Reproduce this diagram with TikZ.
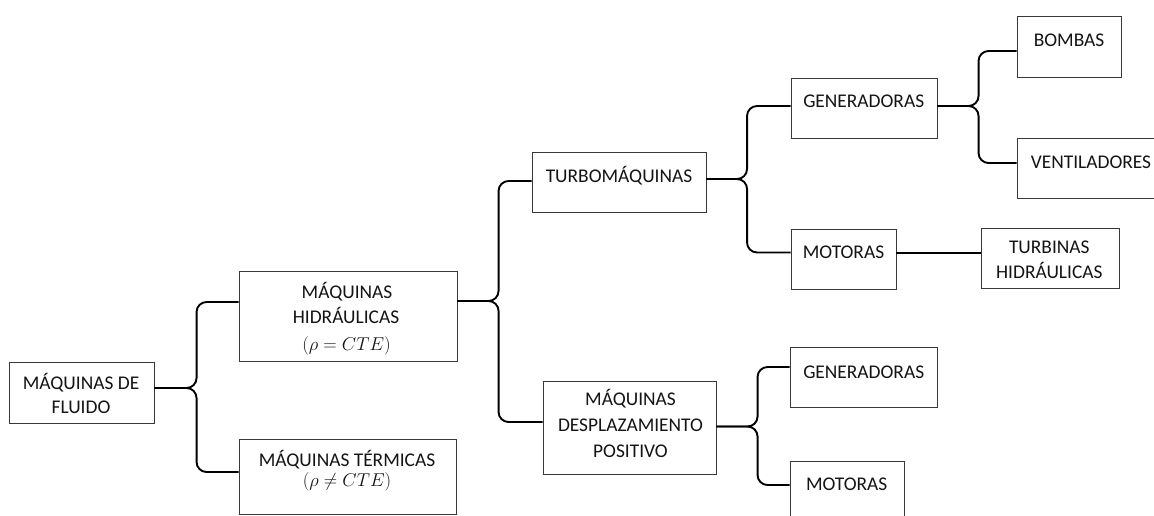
\RequirePackage{fix-cm}
\documentclass[tikz,border=0pt]{standalone}
\usepackage{fontspec}
\setmainfont{Carlito}
\usetikzlibrary{calc}
\begin{document}
\begin{tikzpicture}[x=1pt,y=-1pt,
  box/.style n args={2}{draw=black!78, line width=0.9pt, minimum width=#1,
    minimum height=#2, inner sep=0pt},
  txt/.style={anchor=base, inner sep=0pt, text=black!92,
    font=\fontsize{19.4}{24}\selectfont},
  mth/.style={anchor=base, inner sep=0pt, text=black!92,
    font=\fontsize{18.6}{22}\selectfont},
  conn/.style={line width=1.9pt, rounded corners=10pt}
]
\useasboundingbox (0,0) rectangle (1154,515);
\fill[white] (0,0) rectangle (1154,515);
\clip (0,0) rectangle (1154,515);

% boxes
\node[box={145}{61}] (fl)   at (81.5,392.5) {};
\node[box={218}{90}] (hid)  at (348,316) {};
\node[box={217}{75}] (ter)  at (347.5,476.5) {};
\node[box={174}{60}] (tur)  at (619,182) {};
\node[box={173}{93}] (des)  at (629.5,427.5) {};
\node[box={146}{60}] (gen1) at (864,108) {};
\node[box={105}{60}] (mot1) at (843.5,259) {};
\node[box={104}{61}] (bom)  at (1069,46.5) {};
\node[box={148}{60}] (ven)  at (1091,168) {};
\node[box={138}{60}] (tbn)  at (1050,258) {};
\node[box={147}{60}] (gen2) at (863.5,377) {};
\node[box={114}{60}] (mot2) at (847,491) {};

% labels
\node[txt] (fl1) at (81,389) {MÁQUINAS DE};
\node[txt] (fl2) at (81,413.5) {FLUIDO};
\node[txt] (hid1) at (347,298) {MÁQUINAS};
\node[txt] (hid2) at (346,323.7) {HIDRÁULICAS};
\node[mth] (hid3) at (346.5,350) {$(\rho = CTE)$};
\node[txt] (ter1) at (347,466.8) {MÁQUINAS TÉRMICAS};
\node[mth] (ter2) at (347,486.7) {$(\rho \neq CTE)$};
\node[txt] (tur1) at (619,182) {TURBOMÁQUINAS};
\node[txt] (des1) at (630.5,405.5) {MÁQUINAS};
\node[txt] (des2) at (630.5,431) {DESPLAZAMIENTO};
\node[txt] (des3) at (630.5,457.4) {POSITIVO};
\node[txt] (gen1t) at (863.7,107) {GENERADORAS};
\node[txt] (mot1t) at (843.5,258) {MOTORAS};
\node[txt] (bomt) at (1069,46.7) {BOMBAS};
\node[txt] (vent) at (1091,168) {VENTILADORES};
\node[txt] (tbn1) at (1049.3,253) {TURBINAS};
\node[txt] (tbn2) at (1049.3,278) {HIDRÁULICAS};
\node[txt] (gen2t) at (863.7,378) {GENERADORAS};
\node[txt] (mot2t) at (846.7,490.4) {MOTORAS};

% connectors
\draw[conn] ($(fl.east)+(0,-4.5)$) -| ($(hid.west)+(-42,-14)$) -- ($(hid.west)+(0,-14)$);
\draw[conn] ($(fl.east)+(0,-4.5)$) -| ($(ter.west)+(-42,-4.5)$) -- ($(ter.west)+(0,-4.5)$);

\draw[conn] ($(hid.east)+(0,-15)$) -| ($(tur.west)+(-33,-1)$) -- ($(tur.west)+(0,-1)$);
\draw[conn] ($(hid.east)+(0,-15)$) -| ($(des.west)+(-44,-5.5)$) -- ($(des.west)+(0,-5.5)$);

\draw[conn] ($(tur.east)+(0,-3)$) -| ($(gen1.west)+(-43.5,-2)$) -- ($(gen1.west)+(0,-2)$);
\draw[conn] ($(tur.east)+(0,-3)$) -| ($(mot1.west)+(-43.5,-6.5)$) -- ($(mot1.west)+(0,-6.5)$);

\draw[conn] ($(des.east)+(0,-1)$) -| ($(gen2.west)+(-32,-10)$) -- ($(gen2.west)+(0,-10)$);
\draw[conn] ($(des.east)+(0,-1)$) -| ($(mot2.west)+(-32,-6)$) -- ($(mot2.west)+(0,-6)$);

\draw[conn] ($(gen1.east)+(0,-2)$) -| ($(bom.west)+(-38,4.5)$) -- ($(bom.west)+(0,4.5)$);
\draw[conn] ($(gen1.east)+(0,-2)$) -| ($(ven.west)+(-38,-5)$) -- ($(ven.west)+(0,-5)$);

\draw[conn] ($(mot1.east)+(0,-6)$) -- ($(tbn.west)+(0,-5)$);
\end{tikzpicture}
\end{document}
